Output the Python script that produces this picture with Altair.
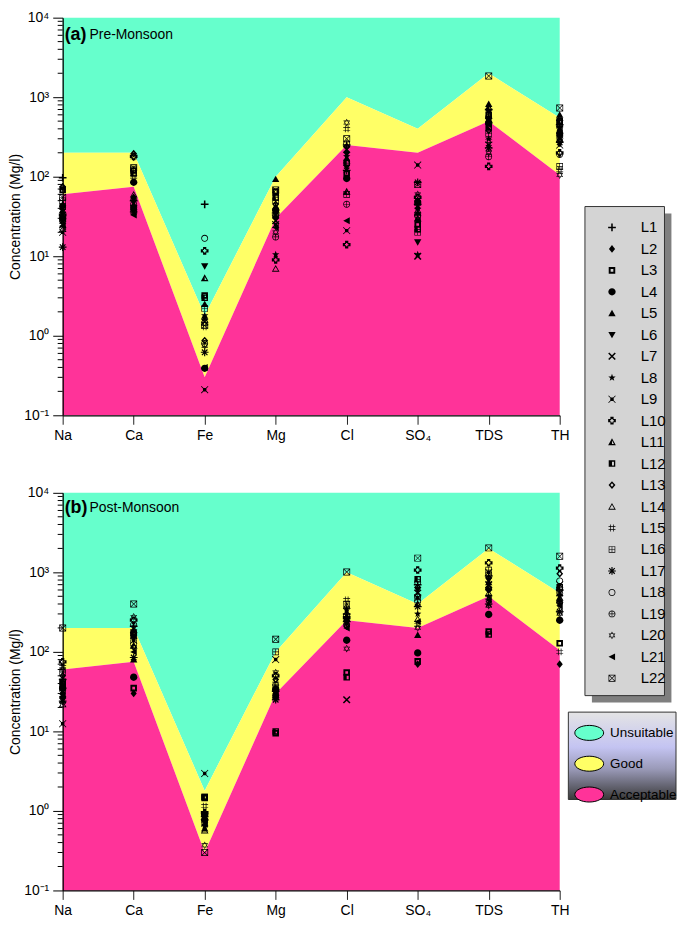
import math
import altair as alt
import pandas as pd

# ---------------------------------------------------------------- data
PARAMS = ["Na", "Ca", "Fe", "Mg", "Cl", "SO4", "TDS", "TH"]
PARAM_LABELS = ["Na", "Ca", "Fe", "Mg", "Cl", "SO₄", "TDS", "TH"]
LOCATIONS = [f"L{i}" for i in range(1, 23)]

ACCEPTABLE_LIMIT = [60, 75, 0.3, 30, 250, 200, 500, 105]
GOOD_LIMIT = [200, 200, 1.8, 100, 1000, 400, 2000, 550]
Y_MIN, Y_MAX = 0.1, 10000

ZONES = ["Unsuitable", "Good", "Acceptable"]
ZONE_COLORS = ["#66FFCC", "#FFFF66", "#FF3399"]

# Pre-Monsoon, values for L1..L22
PRE_NA = [97, 35, 68, 30, 45, 40, 25, 28, 20, 33, 38, 42, 75, 22, 27, 50, 13, 31, 29, 72, 24, 55]
PRE_CA = [50, 55, 120, 85, 45, 48, 40, 52, 38, 180, 42, 110, 195, 60, 100, 125, 36, 45, 40, 175, 33, 130]
PRE_FE = [45, 1.7, 3.2, 0.39, 2.5, 7.5, 1.5, 1.8, 0.21, 11.7, 5.3, 3.0, 0.87, 1.6, 1.3, 2.2, 0.62, 16.8, 0.8, 0.75, 0.4, 1.35]
PRE_MG = [35, 40, 65, 38, 93, 30, 28, 10.5, 25, 9, 42, 55, 45, 7, 60, 50, 33, 32, 17.5, 20, 23, 68]
PRE_CL = [250, 200, 110, 95, 170, 130, 220, 180, 21, 14, 65, 150, 240, 160, 400, 60, 120, 260, 45, 480, 28, 300]
PRE_SO4 = [45, 40, 25, 48, 35, 15, 10, 10.5, 140, 55, 30, 22, 50, 38, 42, 20, 85, 32, 33, 60, 28, 80]
PRE_TDS = [700, 550, 600, 480, 820, 650, 500, 300, 250, 135, 750, 420, 380, 520, 280, 350, 230, 560, 178, 200, 450, 1850]
PRE_TH = [450, 380, 500, 350, 600, 400, 300, 320, 250, 200, 550, 480, 290, 330, 120, 135, 270, 420, 190, 105, 360, 730]

# Post-Monsoon, values for L1..L22
POST_NA = [45, 30, 40, 35, 28, 32, 25, 27, 12.5, 75, 38, 42, 50, 22, 65, 55, 24, 36, 33, 60, 29, 200]
POST_CA = [210, 30, 35, 48, 80, 150, 160, 180, 140, 250, 120, 170, 115, 190, 200, 130, 85, 220, 165, 275, 100, 400]
POST_FE = [0.85, 0.8, 1.5, 0.9, 0.6, 0.75, 0.7, 0.65, 2.95, 0.95, 0.82, 1.45, 0.88, 0.57, 1.15, 1.5, 0.78, 0.92, 0.72, 0.37, 0.68, 0.3]
POST_MG = [32, 30, 9.5, 34, 28, 26, 31, 35, 80, 50, 29, 10, 45, 27, 40, 100, 25, 33, 38, 55, 30, 144]
POST_CL = [300, 250, 55, 140, 280, 230, 25, 350, 320, 270, 260, 48, 210, 380, 450, 400, 240, 290, 220, 110, 200, 1010]
POST_SO4 = [700, 70, 76, 97, 163, 600, 550, 300, 480, 1070, 400, 820, 650, 260, 220, 450, 370, 750, 500, 200, 240, 1510]
POST_TDS = [900, 600, 180, 295, 750, 800, 700, 500, 1000, 1320, 650, 165, 850, 550, 480, 1070, 400, 950, 620, 380, 450, 2030]
POST_TH = [600, 70, 128, 250, 450, 500, 550, 400, 700, 1130, 480, 650, 960, 350, 100, 600, 320, 780, 420, 300, 380, 1590]

PRE = [PRE_NA, PRE_CA, PRE_FE, PRE_MG, PRE_CL, PRE_SO4, PRE_TDS, PRE_TH]
POST = [POST_NA, POST_CA, POST_FE, POST_MG, POST_CL, POST_SO4, POST_TDS, POST_TH]

FONT = "Liberation Sans"


# ---------------------------------------------------------------- symbol paths
def _orient(pts, positive=True):
    n = len(pts)
    a = sum(pts[i][0] * pts[(i + 1) % n][1] - pts[(i + 1) % n][0] * pts[i][1] for i in range(n))
    if (a > 0) != positive:
        pts = pts[::-1]
    return pts


def poly(pts, positive=True):
    pts = _orient(list(pts), positive)
    return "M" + " L".join(f"{x:.3f},{y:.3f}" for x, y in pts) + " Z "


def scaled(pts, s):
    cx = sum(p[0] for p in pts) / len(pts)
    cy = sum(p[1] for p in pts) / len(pts)
    return [(cx + (x - cx) * s, cy + (y - cy) * s) for x, y in pts]


def ring(pts, s):
    return poly(pts) + poly(scaled(pts, s), False)


def rect(x0, y0, x1, y1, positive=True):
    return poly([(x0, y0), (x1, y0), (x1, y1), (x0, y1)], positive)


def bar(x1, y1, x2, y2, w):
    dx, dy = x2 - x1, y2 - y1
    L = math.hypot(dx, dy)
    nx, ny = -dy / L * w, dx / L * w
    return poly([(x1 + nx, y1 + ny), (x2 + nx, y2 + ny), (x2 - nx, y2 - ny), (x1 - nx, y1 - ny)])


def circle(r, positive=True):
    s = 1 if positive else 0
    return f"M{-r},0 A{r},{r} 0 1,{s} {r},0 A{r},{r} 0 1,{s} {-r},0 Z "


def plus_pts(a, e):
    return [(-a, -e), (a, -e), (a, -a), (e, -a), (e, a), (a, a), (a, e), (-a, e), (-a, a), (-e, a), (-e, -a), (-a, -a)]


def star_pts(n, ro, ri):
    pts = []
    for k in range(2 * n):
        r = ro if k % 2 == 0 else ri
        ang = -math.pi / 2 + k * math.pi / n
        pts.append((r * math.cos(ang), r * math.sin(ang)))
    return pts


TRI = [(0, -1), (1, 0.8), (-1, 0.8)]
SQ = [(-0.85, -0.85), (0.85, -0.85), (0.85, 0.85), (-0.85, 0.85)]
SHAPES = [
    rect(-1, -0.2, 1, 0.2) + rect(-0.2, -1, 0.2, 1),                                   # L1 +
    poly([(0, -1), (0.8, 0), (0, 1), (-0.8, 0)]),                                        # L2 diamond
    rect(-0.85, -0.85, 0.85, 0.85) + rect(-0.35, -0.35, 0.35, 0.35, False),               # L3
    circle(0.95),                                                                        # L4
    poly([(0, -0.9), (0.95, 0.75), (-0.95, 0.75)]),                                      # L5
    poly([(-0.95, -0.75), (0.95, -0.75), (0, 0.9)]),                                     # L6
    bar(-0.85, -0.85, 0.85, 0.85, 0.2) + bar(-0.85, 0.85, 0.85, -0.85, 0.2),             # L7 x
    poly(star_pts(5, 1.0, 0.42)),                                                        # L8 star
    rect(-0.45, -0.45, 0.45, 0.45) + bar(-0.9, -0.9, 0.9, 0.9, 0.1) + bar(-0.9, 0.9, 0.9, -0.9, 0.1),  # L9
    ring(plus_pts(0.42, 1.0), 0.45),                                                     # L10 open cross
    ring(TRI, 0.5) + poly([(0, -1), (0, 0.8), (-1, 0.8)]),                               # L11 half triangle
    ring(SQ, 0.6) + rect(-0.85, -0.85, 0, 0.85),                                         # L12 half square
    ring([(0, -1), (0.9, 0), (0, 1), (-0.9, 0)], 0.45),                                  # L13 open diamond
    ring([(0, -0.9), (1, 0.8), (-1, 0.8)], 0.62),                                        # L14 open triangle
    rect(-0.45, -0.9, -0.27, 0.9) + rect(0.27, -0.9, 0.45, 0.9)
    + rect(-0.9, -0.45, 0.9, -0.27) + rect(-0.9, 0.27, 0.9, 0.45),                       # L15 hash
    ring(SQ, 0.8) + rect(-0.85, -0.08, 0.85, 0.08) + rect(-0.08, -0.85, 0.08, 0.85),     # L16
    bar(-1, 0, 1, 0, 0.15) + bar(0, -1, 0, 1, 0.15)
    + bar(-0.72, -0.72, 0.72, 0.72, 0.15) + bar(-0.72, 0.72, 0.72, -0.72, 0.15),         # L17 asterisk
    circle(0.9) + circle(0.7, False),                                                    # L18 open circle
    circle(0.9) + circle(0.72, False) + rect(-0.8, -0.08, 0.8, 0.08) + rect(-0.08, -0.8, 0.08, 0.8),  # L19
    ring([(0, -1), (0.87, 0.5), (-0.87, 0.5)], 0.72)
    + ring([(0, 1), (0.87, -0.5), (-0.87, -0.5)], 0.72),                                 # L20 hexagram
    poly([(0.8, -0.9), (0.8, 0.9), (-0.9, 0)]),                                          # L21
    ring([(-0.9, -0.9), (0.9, -0.9), (0.9, 0.9), (-0.9, 0.9)], 0.8)
    + bar(-0.72, -0.72, 0.72, 0.72, 0.08) + bar(-0.72, 0.72, 0.72, -0.72, 0.08),         # L22
]

ELLIPSE = "M-1,0 A1,0.52 0 1,1 1,0 A1,0.52 0 1,1 -1,0 Z"

# ---------------------------------------------------------------- tables
def points_table(series):
    rows = []
    for pi, vals in enumerate(series):
        for li, v in enumerate(vals):
            rows.append({"idx": pi, "param": PARAMS[pi], "loc": LOCATIONS[li], "value": v})
    return pd.DataFrame(rows)


zone_rows = []
for i in range(len(PARAMS)):
    zone_rows.append({"idx": i, "zone": "Unsuitable", "lo": GOOD_LIMIT[i], "hi": Y_MAX})
    zone_rows.append({"idx": i, "zone": "Good", "lo": ACCEPTABLE_LIMIT[i], "hi": GOOD_LIMIT[i]})
    zone_rows.append({"idx": i, "zone": "Acceptable", "lo": Y_MIN, "hi": ACCEPTABLE_LIMIT[i]})
zones_df = pd.DataFrame(zone_rows)

minor_df = pd.DataFrame({"v": [m * 10.0 ** k for k in range(-1, 4) for m in range(2, 10)]})
one_row = pd.DataFrame({"k": [0]})

W, H = 500, 400

y_label_expr = ("datum.value >= 9999 ? '10⁴' : datum.value >= 999 ? '10³' : datum.value >= 99 ? '10²' : "
                "datum.value >= 9 ? '10¹' : datum.value >= 0.9 ? '10⁰' : '10⁻¹'")
x_label_expr = "[" + ",".join(f"'{s}'" for s in PARAM_LABELS) + "][datum.value]"

x_scale = alt.Scale(domain=[0, len(PARAMS) - 1], nice=False, zero=False)
y_scale = alt.Scale(type="log", domain=[Y_MIN, Y_MAX], nice=False)

x_axis = alt.Axis(values=list(range(len(PARAMS))), labelExpr=x_label_expr, title=None, grid=False,
                  tickSize=9, labelFontSize=14, labelPadding=4, labelFlush=False, labelOverlap=False,
                  domainColor="black", domainWidth=1.3, tickColor="#222", labelColor="black", labelFont=FONT,
                  zindex=2)
y_axis = alt.Axis(values=[0.1, 1, 10, 100, 1000, 10000], labelExpr=y_label_expr,
                  title="Concentration (Mg/l)", grid=False, tickSize=10, labelFontSize=14,
                  labelPadding=4, labelOverlap=False, labelFlush=False, domainColor="black", domainWidth=1.3,
                  tickColor="black", labelColor="black", titleFontSize=14, titleFontWeight="normal",
                  titleColor="black", titlePadding=1, labelFont=FONT, titleFont=FONT, zindex=2)


def panel(series, tag, name, tag_y, show_shapes_legend, show_zone_legend):
    if show_zone_legend:
        zone_legend = alt.Legend(title=None, orient="none", legendX=514.7, legendY=226.5, direction="vertical",
                                 symbolType=ELLIPSE, symbolSize=841, symbolStrokeColor="black",
                                 symbolStrokeWidth=1, symbolOpacity=1, labelFontSize=13.5, labelOffset=6,
                                 rowPadding=6, padding=0, labelFont=FONT, labelColor="black")
    else:
        zone_legend = None
    areas = alt.Chart(zones_df).mark_area(opacity=1, strokeWidth=0).encode(
        x=alt.X("idx:Q", scale=x_scale, axis=x_axis),
        y=alt.Y("lo:Q", scale=y_scale, axis=y_axis),
        y2="hi:Q",
        fill=alt.Fill("zone:N", scale=alt.Scale(domain=ZONES, range=ZONE_COLORS), legend=zone_legend),
    )
    minor = alt.Chart(minor_df).mark_rule(color="black", strokeWidth=1).encode(
        x=alt.value(-5), x2=alt.value(0), y=alt.Y("v:Q", scale=y_scale)
    )
    if show_shapes_legend:
        shape_legend = alt.Legend(title=None, orient="none", legendX=545.1, legendY=203.5, direction="vertical",
                                  symbolSize=60, symbolFillColor="black", symbolStrokeWidth=0,
                                  symbolStrokeColor="black", symbolOpacity=1,
                                  labelFontSize=15, labelOffset=21.4, rowPadding=5.6, padding=0,
                                  labelFont=FONT, labelColor="black")
    else:
        shape_legend = None
    pts = alt.Chart(points_table(series)).mark_point(filled=True, color="black", size=60, opacity=1,
                                                     strokeWidth=0).encode(
        x=alt.X("idx:Q", scale=x_scale),
        y=alt.Y("value:Q", scale=y_scale),
        shape=alt.Shape("loc:N", scale=alt.Scale(domain=LOCATIONS, range=SHAPES), legend=shape_legend),
    )
    t1 = alt.Chart(one_row).mark_text(text=tag, font=FONT, fontSize=18, fontWeight="bold", align="left",
                                      baseline="middle", color="black").encode(
        x=alt.value(2), y=alt.value(tag_y))
    t2 = alt.Chart(one_row).mark_text(text=name, font=FONT, fontSize=14, align="left",
                                      baseline="middle", color="black").encode(
        x=alt.value(27), y=alt.value(tag_y))
    layers = [areas]
    if show_shapes_legend:
        shadow = alt.Chart(one_row).mark_rect(fill="#7f7f7f").encode(
            x=alt.value(532.4), x2=alt.value(612.4), y=alt.value(197), y2=alt.value(689))
        box = alt.Chart(one_row).mark_rect(fill="#d4d4d4", stroke="#333", strokeWidth=1).encode(
            x=alt.value(525.4), x2=alt.value(605.4), y=alt.value(190), y2=alt.value(682))
        layers += [shadow, box]
    if show_zone_legend:
        grad = alt.LinearGradient(gradient="linear", x1=0, x2=0, y1=0, y2=1, stops=[
            alt.GradientStop(color="#e4e4e4", offset=0),
            alt.GradientStop(color="#c4c4f2", offset=0.4),
            alt.GradientStop(color="#9a9ab8", offset=0.65),
            alt.GradientStop(color="#3a3a3a", offset=1),
        ])
        zbox = alt.Chart(one_row).mark_rect(fill=grad, stroke="#333", strokeWidth=1).encode(
            x=alt.value(508.7), x2=alt.value(617), y=alt.value(220.6), y2=alt.value(308.5))
        layers += [zbox]
    layers += [minor, pts, t1, t2]
    return alt.layer(*layers).properties(width=W, height=H)


top = panel(PRE, "(a)", "Pre-Monsoon", 17.7, True, False)
bottom = panel(POST, "(b)", "Post-Monsoon", 14.8, False, True)

chart = (
    alt.vconcat(top, bottom, spacing=78, bounds="flush")
    .resolve_scale(shape="independent", fill="independent")
    .properties(padding=0, background="white")
    .configure_view(stroke=None)
)

chart.save("out.html", embed_options={"renderer": "svg", "actions": False})
